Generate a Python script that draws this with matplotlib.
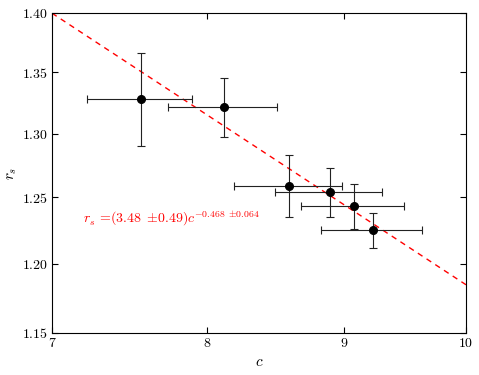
import numpy as np
import matplotlib
matplotlib.use("Agg")
import matplotlib.pyplot as plt
from matplotlib.ticker import FixedLocator, FuncFormatter, NullLocator

plt.rcParams['mathtext.fontset'] = 'cm'
plt.rcParams['font.family'] = 'serif'
plt.rcParams['font.serif'] = ['cmr10', 'DejaVu Serif']
plt.rcParams['axes.unicode_minus'] = False

# data
c_vals = [7.556, 8.116, 8.588, 8.894, 9.078, 9.227]
rs_vals = [1.328, 1.321, 1.259, 1.254, 1.243, 1.225]
c_err = [0.34, 0.38, 0.40, 0.41, 0.40, 0.40]
rs_err = [0.038, 0.024, 0.024, 0.019, 0.017, 0.013]
fit_A = 3.48
fit_b = -0.468
x_ticks = [7, 8, 9, 10]
y_ticks = [1.15, 1.20, 1.25, 1.30, 1.35, 1.40]

fig = plt.figure(figsize=(4.79, 3.75), dpi=100)
ax = fig.add_axes([0.1086, 0.112, 0.8643, 0.8533])

xf = np.linspace(7, 10, 200)
ax.plot(xf, fit_A * xf ** fit_b, color='red', linestyle='--', linewidth=1.0,
        dashes=(4, 3.5))

ax.errorbar(c_vals, rs_vals, xerr=c_err, yerr=rs_err, fmt='o', color='black',
            ecolor='#222222', elinewidth=0.8, capsize=3, capthick=0.8,
            markersize=5.5)

ax.set_xscale('log')
ax.set_yscale('log')
ax.set_xlim(7, 10)
ax.set_ylim(1.15, 1.40)

ax.xaxis.set_major_locator(FixedLocator(x_ticks))
ax.xaxis.set_minor_locator(NullLocator())
ax.yaxis.set_major_locator(FixedLocator(y_ticks))
ax.yaxis.set_minor_locator(NullLocator())
ax.xaxis.set_major_formatter(FuncFormatter(lambda v, p: f'${v:g}$'))
ax.yaxis.set_major_formatter(FuncFormatter(lambda v, p: f'${v:.2f}$'))

ax.tick_params(direction='in', top=True, right=True, length=4, labelsize=10,
               pad=3)

ax.set_xlabel(r'$c$', fontsize=11, labelpad=4)
ax.set_ylabel(r'$r_s$', fontsize=11, labelpad=2)

ax.text(7.19, 1.2335,
        r'$r_s\,=\!(3.48\;\pm\!0.49)c^{-0.468\;\pm\!0.064}$',
        color='red', fontsize=10, ha='left', va='center')

fig.savefig('out.png', dpi=100)
